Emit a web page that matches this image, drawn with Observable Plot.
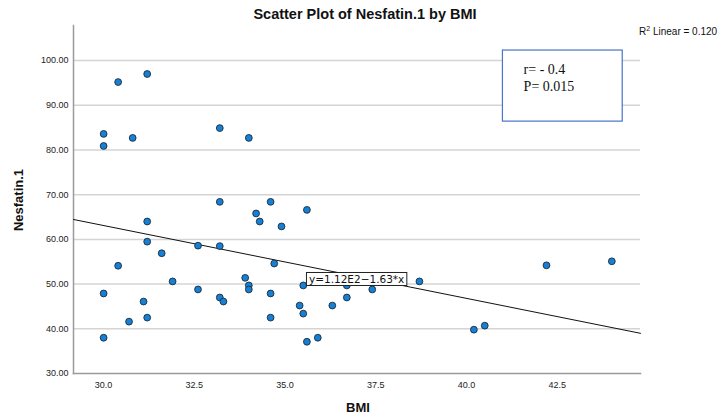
<!DOCTYPE html>
<html>
<head>
<meta charset="utf-8">
<script src="https://cdn.jsdelivr.net/npm/d3@7"></script>
<script src="https://cdn.jsdelivr.net/npm/@observablehq/plot@0.6"></script>
<style>
  html, body { margin: 0; padding: 0; background: #fff; }
  #chart svg { display: block; }
</style>
</head>
<body>
<div id="chart"></div>
<script>
// ---- data ----
const bmi = [
  30.0, 30.0, 30.4, 30.8, 31.2, 33.2, 34.0,
  30.0, 30.0, 30.4, 30.7, 31.1, 31.2, 31.2, 31.2, 31.6, 31.9,
  32.6, 32.6, 33.2, 33.2, 33.2, 33.3, 33.9, 34.0, 34.0, 34.2, 34.3,
  34.6, 34.6, 34.6, 34.7, 34.9, 35.6, 35.5, 35.4, 35.5, 35.6, 35.9,
  36.3, 36.7, 36.7, 37.4, 38.7, 40.2, 40.5, 42.2, 44.0
];
const nesfatin = [
  83.6, 80.9, 95.2, 82.7, 97.0, 84.9, 82.7,
  47.9, 38.0, 54.1, 41.6, 46.1, 64.0, 59.5, 42.5, 56.9, 50.6,
  58.6, 48.8, 68.4, 58.5, 47.0, 46.1, 51.4, 49.7, 48.8, 65.8, 64.0,
  68.4, 47.9, 42.5, 54.6, 62.9, 66.6, 49.7, 45.2, 43.4, 37.1, 38.0,
  45.2, 49.7, 47.0, 48.8, 50.6, 39.8, 40.7, 54.2, 55.1
];
const xTicks = [30.0, 32.5, 35.0, 37.5, 40.0, 42.5];
const yTicks = [30, 40, 50, 60, 70, 80, 90, 100];
const fitIntercept = 112;
const fitSlope = -1.63;
const fitLabel = "y=1.12E2\u22121.63*x";
const statsLines = ["r= - 0.4", "P= 0.015"];
const titleText = "Scatter Plot of Nesfatin.1 by BMI";
const xTitle = "BMI";
const yTitle = "Nesfatin.1";

const xDomain = [29.17, 44.79];
const yDomain = [30, 107.85];

const points = bmi.map((b, i) => ({bmi: b, nes: nesfatin[i]}));
const fitLine = xDomain.map(x => ({bmi: x, nes: fitIntercept + fitSlope * x}));
const statsBox = [{x1: 41.0, x2: 44.3, y1: 86.35, y2: 102.25}];
const statsText = statsLines.map((t, i) => ({x: 41.57, y: 98.0 - i * 3.85, t}));
const eqPos = [{x: 36.97, y: 51.0, t: fitLabel}];

const W = 720, H = 419;
const plot = Plot.plot({
  width: W,
  height: H,
  marginLeft: 73,
  marginRight: 80,
  marginTop: 25,
  marginBottom: 46,
  style: {fontFamily: "'Liberation Sans', Arial, sans-serif", fontSize: "9px", color: "#222", background: "#fff"},
  x: {domain: xDomain, ticks: xTicks, tickFormat: d3.format(".1f"), tickSize: 0, tickPadding: 8, label: null},
  y: {domain: yDomain, ticks: yTicks, tickFormat: d3.format(".2f"), tickSize: 0, tickPadding: 5, label: null},
  marks: [
    Plot.gridY(yTicks.filter(d => d > 30), {stroke: "#d4d4d4", strokeOpacity: 1, strokeWidth: 1.5}),
    Plot.axisX({ticks: xTicks, tickFormat: d3.format(".1f"), tickSize: 0, tickPadding: 8, label: null}),
    Plot.axisY({ticks: yTicks, tickFormat: d3.format(".2f"), tickSize: 0, tickPadding: 5, label: null}),
    Plot.frame({anchor: "left", stroke: "#9a9a9a", strokeWidth: 1.5}),
    Plot.frame({anchor: "bottom", stroke: "#9a9a9a", strokeWidth: 1.5}),
    Plot.line(fitLine, {x: "bmi", y: "nes", stroke: "#111", strokeWidth: 1}),
    Plot.dot(points, {x: "bmi", y: "nes", r: 3.4, fill: "#1580d6", stroke: "#1d2b38", strokeWidth: 0.9}),
    Plot.rect(statsBox, {x1: "x1", x2: "x2", y1: "y1", y2: "y2", fill: "#fff", stroke: "#4a73c9", strokeWidth: 1.2}),
    Plot.text(statsText, {x: "x", y: "y", text: "t", textAnchor: "start", fontFamily: "'Liberation Serif', 'Times New Roman', serif", fontSize: 14, fill: "#111"}),
    Plot.text(eqPos, {x: "x", y: "y", text: "t", fontSize: 10.5, fontFamily: "'DejaVu Sans', sans-serif", fill: "#111", className: "eqlabel"})
  ]
});
document.getElementById("chart").appendChild(plot);

const svg = d3.select(plot);
// equation label background box (placed in the same local frame as the text)
svg.selectAll(".eqlabel text").each(function () {
  const bb = this.getBBox();
  const r = d3.select(this.parentNode).insert("rect", () => this)
    .attr("x", bb.x - 2.5).attr("y", bb.y - 0.5)
    .attr("width", bb.width + 5).attr("height", bb.height + 1)
    .attr("fill", "#fff").attr("stroke", "#222").attr("stroke-width", 1);
  const tr = this.getAttribute("transform");
  if (tr) r.attr("transform", tr);
});
// title
svg.append("text").attr("x", 365).attr("y", 19).attr("text-anchor", "middle")
  .attr("font-family", "'Liberation Sans Narrow', 'Liberation Sans', Arial, sans-serif")
  .attr("font-weight", "bold").attr("font-size", 14.5).attr("fill", "#111").text(titleText);
// R2 label
const r2 = svg.append("text").attr("x", 639).attr("y", 35).attr("text-anchor", "start")
  .attr("font-family", "'Liberation Sans', Arial, sans-serif").attr("font-size", 10).attr("fill", "#111");
r2.append("tspan").text("R");
r2.append("tspan").attr("dy", -4).attr("font-size", 7).text("2");
r2.append("tspan").attr("dy", 4).text(" Linear = 0.120");
// axis titles
svg.append("text").attr("x", 358).attr("y", 412).attr("text-anchor", "middle")
  .attr("font-family", "'Liberation Sans', Arial, sans-serif").attr("font-weight", "bold")
  .attr("font-size", 13).attr("fill", "#111").text(xTitle);
svg.append("text").attr("transform", "translate(23,200) rotate(-90)").attr("text-anchor", "middle")
  .attr("font-family", "'Liberation Sans', Arial, sans-serif").attr("font-weight", "bold")
  .attr("font-size", 13).attr("fill", "#111").text(yTitle);
</script>
</body>
</html>
